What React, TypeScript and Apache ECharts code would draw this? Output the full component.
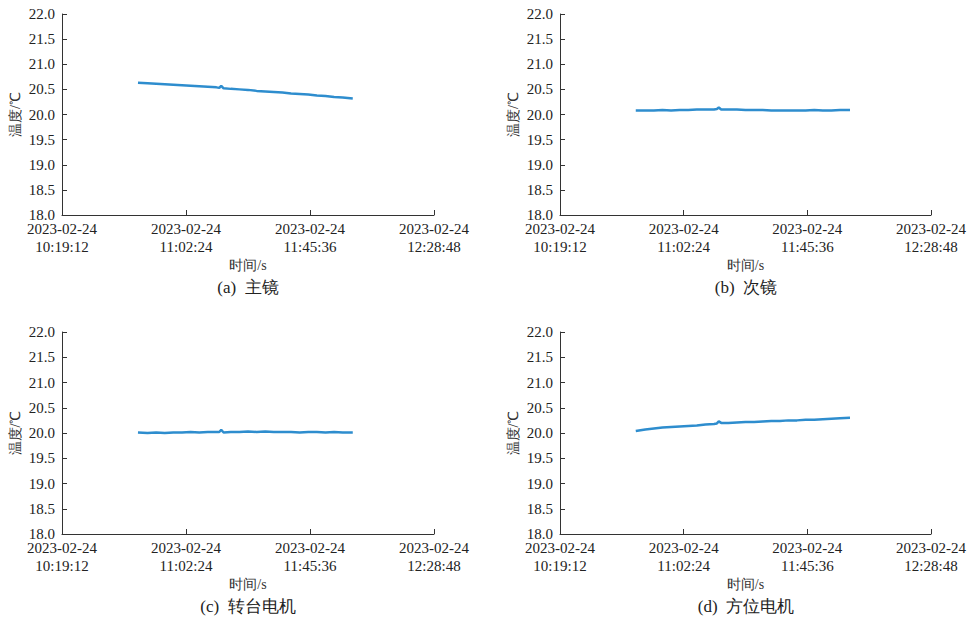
import React, { useEffect, useRef } from "react";
import * as echarts from "echarts";

// Sample times (hh:mm:ss, 2023-02-24)
const times = [
  "10:45:40", "10:49:00", "10:52:00", "10:55:00", "10:58:00", "11:01:00", "11:04:00",
  "11:07:00", "11:10:00", "11:13:00", "11:14:00", "11:14:40", "11:15:30", "11:18:00",
  "11:21:00", "11:24:00", "11:27:00", "11:30:00", "11:33:00", "11:36:00", "11:39:00",
  "11:42:00", "11:45:00", "11:48:00", "11:51:00", "11:54:00", "11:57:00", "12:00:30",
];

// Temperatures (°C)
const primaryMirror = [
  20.63, 20.62, 20.61, 20.60, 20.59, 20.58, 20.57, 20.56, 20.55, 20.54, 20.53, 20.57, 20.52, 20.51,
  20.50, 20.49, 20.47, 20.46, 20.45, 20.44, 20.42, 20.41, 20.40, 20.38, 20.37, 20.35, 20.34, 20.32,
];
const secondaryMirror = [
  20.08, 20.08, 20.08, 20.09, 20.08, 20.09, 20.09, 20.10, 20.10, 20.10, 20.11, 20.14, 20.10, 20.10,
  20.10, 20.09, 20.09, 20.09, 20.08, 20.08, 20.08, 20.08, 20.08, 20.09, 20.08, 20.08, 20.09, 20.09,
];
const turntableMotor = [
  20.01, 20.00, 20.01, 20.00, 20.01, 20.01, 20.02, 20.01, 20.02, 20.02, 20.02, 20.06, 20.01, 20.02,
  20.02, 20.03, 20.02, 20.03, 20.02, 20.02, 20.02, 20.01, 20.02, 20.02, 20.01, 20.02, 20.01, 20.01,
];
const azimuthMotor = [
  20.04, 20.07, 20.09, 20.11, 20.12, 20.13, 20.14, 20.15, 20.17, 20.18, 20.19, 20.23, 20.20, 20.20,
  20.21, 20.22, 20.22, 20.23, 20.24, 20.24, 20.25, 20.25, 20.26, 20.26, 20.27, 20.28, 20.29, 20.30,
];

const captions = ["(a)  主镜", "(b)  次镜", "(c)  转台电机", "(d)  方位电机"];
const xTickStart = "10:19:12";
const xTickEnd = "12:28:48";
const xTickStep = "00:43:12";
const dateLabel = "2023-02-24";
const yMin = 18.0;
const yMax = 22.0;
const yStep = 0.5;

const toSec = (t: string) => {
  const [h, m, s] = t.split(":").map(Number);
  return h * 3600 + m * 60 + s;
};
const fmt = (sec: number) => {
  const h = Math.floor(sec / 3600);
  const m = Math.floor((sec % 3600) / 60);
  const s = Math.round(sec % 60);
  const p = (n: number) => String(n).padStart(2, "0");
  return `${p(h)}:${p(m)}:${p(s)}`;
};

const FONT = "Liberation Serif";

export default function App() {
  const ref = useRef<HTMLDivElement>(null);
  useEffect(() => {
    document.body.style.margin = "0";
    if (!ref.current) return;
    const chart = echarts.init(ref.current, undefined, { renderer: "svg" });
    const base = toSec(xTickStart);
    const span = toSec(xTickEnd) - base;
    const step = toSec(xTickStep);
    const allSeries = [primaryMirror, secondaryMirror, turntableMotor, azimuthMotor];
    const grids = [
      { left: 62, top: 14, width: 372, height: 201 },
      { left: 560, top: 14, width: 372, height: 201 },
      { left: 62, top: 332, width: 372, height: 202 },
      { left: 560, top: 332, width: 372, height: 202 },
    ];
    const axisColor = "#333";
    const option: any = {
      animation: false,
      backgroundColor: "#fff",
      textStyle: { fontFamily: FONT },
      grid: grids,
      xAxis: grids.map((_, i) => ({
        type: "value",
        gridIndex: i,
        min: 0,
        max: span,
        interval: step,
        name: "时间/s",
        nameLocation: "middle",
        nameGap: 43,
        nameTextStyle: { fontFamily: FONT, fontSize: 14, color: "#333" },
        axisLine: { show: true, lineStyle: { color: axisColor, width: 1 } },
        axisTick: { show: true, inside: true, length: 5, lineStyle: { color: axisColor } },
        splitLine: { show: false },
        axisLabel: {
          fontFamily: FONT,
          fontSize: 15,
          color: "#222",
          margin: 5,
          lineHeight: 18,
          formatter: (v: number) => `${dateLabel}\n${fmt(base + v)}`,
        },
      })),
      yAxis: grids.map((_, i) => ({
        type: "value",
        gridIndex: i,
        min: yMin,
        max: yMax,
        interval: yStep,
        name: "温度/℃",
        nameLocation: "middle",
        nameGap: 40,
        nameTextStyle: { fontFamily: FONT, fontSize: 14, color: "#333" },
        axisLine: { show: true, lineStyle: { color: axisColor, width: 1 } },
        axisTick: { show: true, inside: true, length: 5, lineStyle: { color: axisColor } },
        splitLine: { show: false },
        axisLabel: {
          fontFamily: FONT,
          fontSize: 15,
          color: "#222",
          margin: 7,
          formatter: (v: number) => v.toFixed(1),
        },
      })),
      series: allSeries.map((vals, i) => ({
        type: "line",
        xAxisIndex: i,
        yAxisIndex: i,
        showSymbol: false,
        symbol: "none",
        lineStyle: { color: "#2E8DCE", width: 2.5 },
        data: times.map((t, k) => [toSec(t) - base, vals[k]]),
      })),
      graphic: grids.map((g, i) => ({
        type: "text",
        x: g.left + g.width / 2,
        y: g.top + g.height + 72,
        style: {
          text: captions[i],
          fontFamily: FONT,
          fontSize: 17,
          fill: "#222",
          textAlign: "center",
          textVerticalAlign: "middle",
        },
      })),
    };
    chart.setOption(option);
    return () => chart.dispose();
  }, []);
  return <div ref={ref} style={{ width: 969, height: 619 }} />;
}
